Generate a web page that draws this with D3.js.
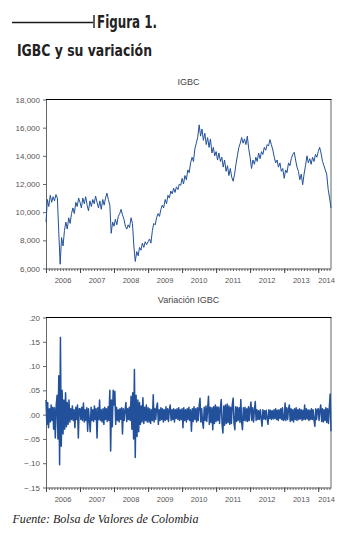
<!DOCTYPE html>
<html>
<head>
<meta charset="utf-8">
<script src="https://cdn.jsdelivr.net/npm/d3@7"></script>
<style>
    body { margin: 0; background: #fff; }
    svg { display: block; }
</style>
</head>
<body>
<svg id="chart" width="351" height="534"></svg>
<script>
const igbc2006 = [9300, 10900, 10400, 11200, 10700, 11100, 10800, 11250, 11000, 8600, 6300, 8200,
                  7600, 8700, 9300, 8800, 9600, 9200, 9900, 10300, 9900, 10700, 10400, 11000];
const igbc2007 = [10700, 10300, 11000, 10600, 11100, 10500, 10100, 10800, 10400, 10900, 10600, 11150,
                  10700, 10300, 10800, 10200, 10900, 10500, 11000, 11350, 10900, 10500, 8500, 9300];
const igbc2008 = [9000, 9500, 9100, 9700, 9900, 10200, 9800, 9500, 9000, 8800, 9100, 8900,
                  9600, 9200, 7600, 6500, 7200, 6900, 7500, 7300, 7800, 7500, 7900, 7700];
const igbc2009 = [7900, 8100, 7800, 8700, 9200, 9100, 9600, 9900, 9700, 10200, 10500, 10300,
                  10900, 10600, 11200, 11000, 11500, 11300, 11700, 11400, 11800, 11600, 12000, 11900];
const igbc2010 = [12400, 12000, 12600, 12300, 13000, 12800, 13500, 13900, 13600, 14500, 14900, 15300,
                  16200, 15400, 15900, 15100, 15600, 14800, 15300, 14600, 15200, 14200, 14600, 14000];
const igbc2011 = [14300, 13700, 14200, 13600, 13900, 13200, 13700, 12900, 13300, 12600, 13100, 12500,
                  12200, 12700, 13400, 14000, 14600, 14900, 15300, 14900, 15200, 14800, 15400, 14500];
const igbc2012 = [13900, 13100, 13700, 13400, 13900, 13600, 14200, 13800, 14300, 14100, 14600, 14400,
                  14800, 14700, 15150, 14800, 14400, 13900, 13500, 13700, 13200, 13500, 12900, 13100];
const igbc2013 = [12400, 13000, 12800, 13500, 13300, 13800, 14100, 14250, 13700, 13200, 12900, 12300,
                  12700, 11950, 12700, 13300, 14000, 13500, 13800, 13400, 13900, 13600, 14100, 13900];
const igbc2014 = [14300, 14600, 14200, 13600, 13300, 13000, 12700, 11600, 11000, 10300];

// daily variation, thinned to 40 readings per year
const var2006 = [0.03, -0.02, 0.025, -0.027, 0.012, -0.015, 0.02, -0.012, 0.015, -0.03,
                 0.014, -0.048, 0.02, 0.04, -0.05, 0.08, -0.103, 0.159, -0.065, 0.05,
                 -0.04, 0.03, -0.03, 0.045, -0.025, 0.025, -0.02, 0.03, -0.015, 0.012,
                 -0.01, 0.018, -0.012, 0.01, -0.027, 0.015, -0.01, 0.02, -0.048, 0.012];
const var2007 = [0.012, -0.01, 0.015, -0.012, 0.024, -0.015, 0.01, -0.012, 0.014, -0.034,
                 0.012, -0.01, -0.035, 0.015, -0.012, 0.01, -0.014, 0.018, -0.01, 0.012,
                 -0.048, 0.014, -0.01, 0.03, -0.012, 0.01, -0.015, 0.012, -0.02, 0.015,
                 -0.01, 0.012, -0.014, 0.016, -0.012, 0.05, -0.075, 0.03, -0.025, 0.05];
const var2008 = [0.02, 0.048, -0.02, 0.015, -0.012, 0.01, -0.015, 0.012, -0.01, 0.014,
                 -0.04, 0.012, -0.012, 0.01, 0.025, -0.014, 0.012, -0.01, 0.015, -0.012,
                 0.038, -0.03, 0.045, -0.05, 0.093, -0.088, 0.04, -0.045, 0.03, -0.035,
                 0.025, -0.02, 0.018, -0.015, 0.035, -0.018, 0.015, -0.012, 0.02, -0.015];
const var2009 = [0.014, -0.015, 0.012, -0.018, 0.01, -0.012, 0.041, -0.015, 0.012, -0.01,
                 0.015, 0.024, -0.02, 0.01, -0.012, 0.014, -0.01, 0.012, -0.015, 0.01,
                 -0.012, 0.016, -0.01, 0.012, -0.014, 0.01, 0.02, -0.012, 0.01, -0.01,
                 0.012, -0.015, 0.01, -0.008, 0.012, -0.01, 0.014, -0.012, 0.01, -0.01];
const var2010 = [0.012, -0.027, 0.014, -0.012, 0.01, -0.015, 0.012, -0.01, 0.015, -0.012,
                 0.01, -0.034, 0.012, -0.014, 0.016, -0.01, 0.012, -0.015, 0.014, -0.012,
                 0.018, 0.034, -0.015, 0.012, -0.014, -0.028, 0.015, -0.012, 0.018, -0.014,
                 0.012, 0.038, -0.02, 0.015, -0.016, 0.014, -0.031, 0.016, -0.018, 0.02];
const var2011 = [-0.014, 0.016, -0.012, 0.015, -0.018, 0.014, 0.031, -0.02, -0.038, 0.018,
                 -0.022, 0.02, -0.018, 0.022, -0.016, 0.018, -0.02, 0.015, -0.018, 0.02,
                 0.034, -0.018, -0.031, 0.016, -0.014, 0.015, -0.012, 0.014, -0.016, 0.031,
                 -0.015, -0.031, 0.014, -0.012, 0.015, -0.013, 0.012, -0.014, 0.016, -0.012];
const var2012 = [0.012, 0.026, -0.012, 0.014, -0.015, 0.01, 0.027, -0.012, 0.01, -0.01,
                 0.008, -0.01, 0.01, -0.008, -0.024, 0.01, -0.009, 0.008, -0.01, 0.009,
                 -0.008, -0.02, 0.01, -0.008, 0.009, -0.01, 0.008, -0.009, 0.01, -0.008,
                 0.012, -0.01, 0.009, -0.012, 0.01, -0.008, 0.012, -0.01, 0.014, -0.012];
const var2013 = [-0.01, 0.024, -0.012, 0.014, -0.01, 0.012, 0.02, -0.014, 0.012, -0.012,
                 0.01, -0.015, 0.012, -0.01, 0.014, -0.012, 0.01, -0.01, 0.012, -0.009,
                 0.01, -0.012, 0.009, -0.01, 0.02, -0.01, 0.012, -0.009, 0.01, -0.012,
                 0.009, -0.01, 0.012, -0.01, 0.01, -0.012, -0.024, 0.012, -0.01, 0.01];
const var2014 = [0.012, -0.012, 0.01, 0.02, -0.014, 0.012, -0.015, 0.01, -0.012, 0.014,
                 -0.016, 0.012, -0.018, 0.015, 0.0425, -0.034];

const years = [2006, 2007, 2008, 2009, 2010, 2011, 2012, 2013, 2014];
const igbcTicks = [6000, 8000, 10000, 12000, 14000, 16000, 18000];
const varTicks = [-0.15, -0.10, -0.05, 0.00, 0.05, 0.10, 0.15, 0.20];

const igbcByYear = [igbc2006, igbc2007, igbc2008, igbc2009, igbc2010, igbc2011, igbc2012, igbc2013, igbc2014];
const varByYear = [var2006, var2007, var2008, var2009, var2010, var2011, var2012, var2013, var2014];

function toSeries(byYear, perYear) {
    const out = [];
    years.forEach((yr, k) => {
        byYear[k].forEach((v, i) => {
            out.push({
                date: d3.timeDay.offset(new Date(yr, 0, 1), Math.round(i * 365.25 / perYear)),
                value: v
            });
        });
    });
    return out;
}

const igbcData = toSeries(igbcByYear, 24);
const varData = toSeries(varByYear, 40);

const svg = d3.select('#chart');
const left = 46, right = 331;
const lineColor = '#22509a';
const axisColor = '#666';
const labelFont = "'Liberation Sans', Arial, sans-serif";

const start = new Date(2006, 0, 1);
const end = d3.max([igbcData[igbcData.length - 1].date, varData[varData.length - 1].date]);
const x = d3.scaleTime().domain([start, end]).range([left, right]);

// header
svg.append('line')
    .attr('x1', 12).attr('x2', 93).attr('y1', 22.5).attr('y2', 22.5)
    .attr('stroke', '#1a1a1a').attr('stroke-width', 1.4);
svg.append('line')
    .attr('x1', 94).attr('x2', 94).attr('y1', 15).attr('y2', 28)
    .attr('stroke', '#1a1a1a').attr('stroke-width', 1.4);
svg.append('text')
    .attr('x', 97).attr('y', 27.5)
    .attr('textLength', 60).attr('lengthAdjust', 'spacingAndGlyphs')
    .style('font-family', "'Liberation Sans Narrow', 'DejaVu Sans Condensed', sans-serif")
    .style('font-weight', 'bold').style('font-size', '17px').style('fill', '#222')
    .text('Figura 1.');
svg.append('text')
    .attr('x', 17).attr('y', 56)
    .attr('textLength', 135).attr('lengthAdjust', 'spacingAndGlyphs')
    .style('font-family', "'Liberation Sans Narrow', 'DejaVu Sans Condensed', sans-serif")
    .style('font-weight', 'bold').style('font-size', '16px').style('fill', '#222')
    .text('IGBC y su variación');

function drawPanel(opt) {
    const y = d3.scaleLinear().domain(opt.domain).range([opt.bottom, opt.top]);
    const g = svg.append('g');

    g.append('text')
        .attr('x', (left + right) / 2).attr('y', opt.titleY)
        .attr('text-anchor', 'middle')
        .style('font-family', labelFont).style('font-size', '9px').style('fill', '#444')
        .text(opt.title);

    // left axis
    const yAxis = g.append('g')
        .attr('transform', `translate(${left},0)`)
        .call(d3.axisLeft(y).tickValues(opt.ticks).tickSize(3).tickSizeOuter(0).tickFormat(opt.format));
    yAxis.select('.domain').attr('stroke', axisColor);
    yAxis.selectAll('.tick line').attr('stroke', axisColor);
    yAxis.selectAll('.tick text')
        .attr('x', -6)
        .style('font-family', labelFont).style('font-size', '8px').style('fill', '#555');

    // bottom axis: monthly minor ticks, yearly major ticks
    const minor = g.append('g')
        .attr('transform', `translate(0,${opt.bottom})`)
        .call(d3.axisBottom(x).ticks(d3.timeMonth.every(1)).tickSize(2.5).tickSizeOuter(0).tickFormat(''));
    minor.select('.domain').attr('stroke', axisColor);
    minor.selectAll('.tick line').attr('stroke', axisColor);
    const major = g.append('g')
        .attr('transform', `translate(0,${opt.bottom})`)
        .call(d3.axisBottom(x).ticks(d3.timeYear.every(1)).tickSize(4.5).tickSizeOuter(0).tickFormat(''));
    major.select('.domain').remove();
    major.selectAll('.tick line').attr('stroke', '#444');

    // year labels centred on the visible part of each year
    g.selectAll('.year')
        .data(years)
        .enter().append('text')
        .attr('class', 'year')
        .attr('x', d => {
            const a = d3.max([new Date(d, 0, 1), start]);
            const b = d3.min([new Date(d + 1, 0, 1), end]);
            return (x(a) + x(b)) / 2 + (d === 2014 ? 2 : 0);
        })
        .attr('y', opt.bottom + 14)
        .attr('text-anchor', 'middle')
        .style('font-family', labelFont).style('font-size', '7.5px').style('fill', '#555')
        .text(d => d);

    // frame: right side and black top rule
    g.append('line')
        .attr('x1', right).attr('x2', right).attr('y1', opt.top).attr('y2', opt.bottom)
        .attr('stroke', axisColor);
    g.append('line')
        .attr('x1', left).attr('x2', right + 0.5).attr('y1', opt.top).attr('y2', opt.top)
        .attr('stroke', '#000').attr('stroke-width', 1.2);

    const line = d3.line()
        .x(d => x(d.date))
        .y(d => y(d.value));
    g.append('path')
        .datum(opt.data)
        .attr('d', line)
        .attr('fill', 'none')
        .attr('stroke', lineColor)
        .attr('stroke-width', opt.strokeWidth)
        .attr('stroke-linejoin', 'round');
}

drawPanel({
    top: 99.5, bottom: 268.5,
    domain: [6000, 18000], ticks: igbcTicks,
    format: d3.format(','),
    title: 'IGBC', titleY: 85,
    data: igbcData, strokeWidth: 1
});

drawPanel({
    top: 317.5, bottom: 487.5,
    domain: [-0.15, 0.20], ticks: varTicks,
    format: d => d3.format('.2f')(d).replace('0.', '.'),
    title: 'Variación IGBC', titleY: 303,
    data: varData, strokeWidth: 1.5
});

// source note
svg.append('text')
    .attr('x', 12.5).attr('y', 523)
    .attr('textLength', 186).attr('lengthAdjust', 'spacingAndGlyphs')
    .style('font-family', "'Liberation Serif', 'DejaVu Serif', serif")
    .style('font-style', 'italic').style('font-size', '12px').style('fill', '#222')
    .text('Fuente: Bolsa de Valores de Colombia');
</script>
</body>
</html>
